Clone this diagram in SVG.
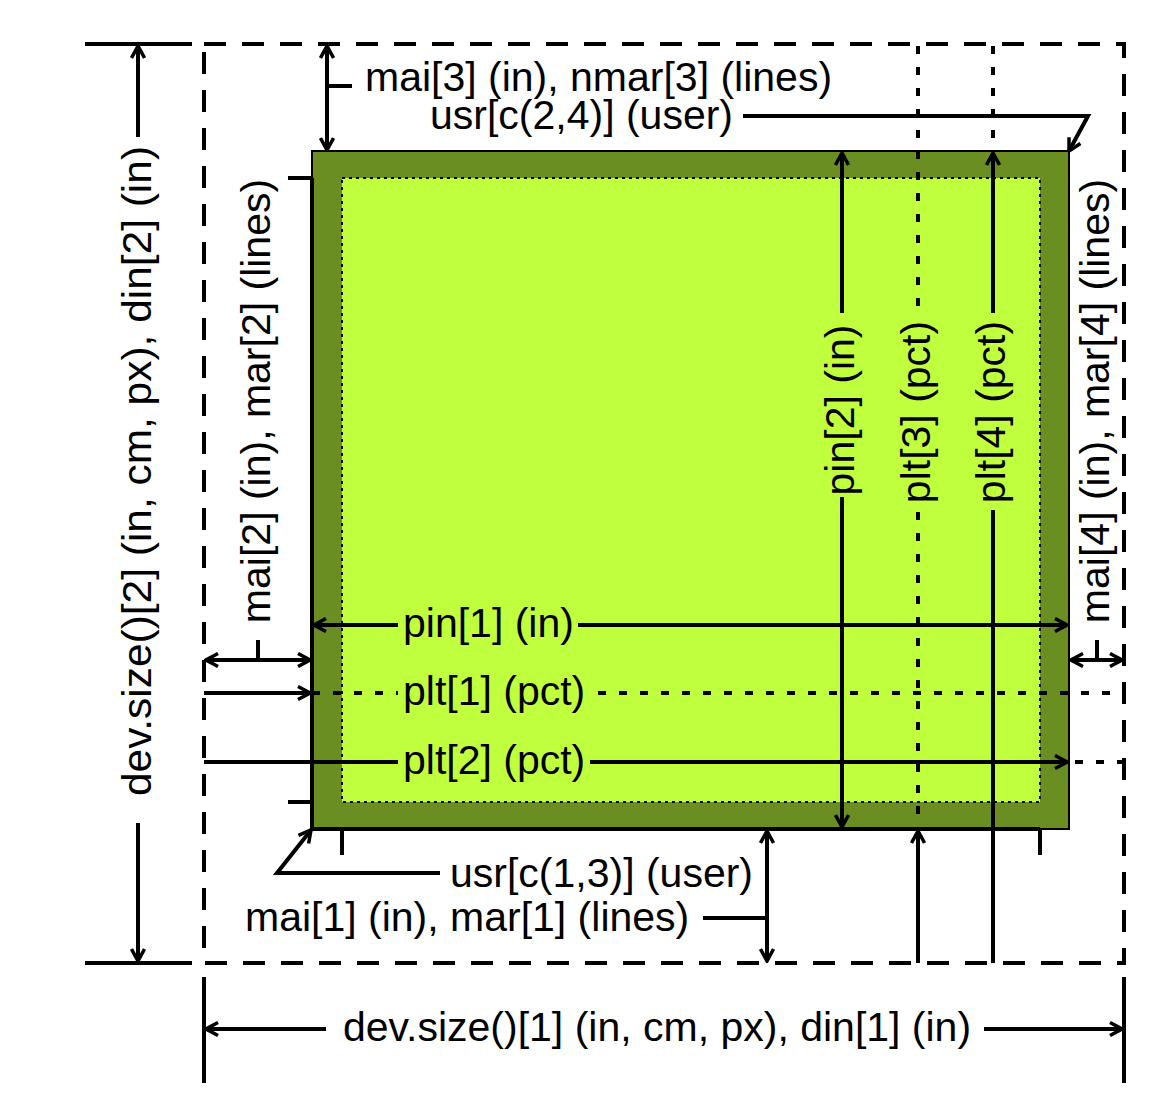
<svg xmlns="http://www.w3.org/2000/svg" width="1154" height="1104" viewBox="0 0 1154 1104">
<style>
.t{font-family:"Liberation Sans",Arial,sans-serif;font-size:41px;fill:#000}
.s{stroke:#000;stroke-width:4;fill:none}
.d{stroke:#000;stroke-width:4;fill:none;stroke-dasharray:22 16}
.o{stroke:#000;stroke-width:4;fill:none;stroke-dasharray:8 13}
</style>
<defs>
<marker id="ah" markerUnits="userSpaceOnUse" viewBox="0 0 16 16" refX="14" refY="8" markerWidth="16" markerHeight="16" orient="auto-start-reverse">
<path d="M2,1.5 L14,8 L2,14.5" fill="none" stroke="#000" stroke-width="3.5"/>
</marker>
</defs>
<rect width="1154" height="1104" fill="#fff"/>

<g id="device-region">
<rect x="204" y="44" width="920" height="919" class="d"/>
</g>

<g id="figure-region">
<rect x="312" y="151" width="757" height="678" fill="#6B8E23" stroke="#000" stroke-width="2"/>
</g>

<g id="plot-region">
<rect x="342" y="178" width="698" height="624" fill="#C0FF3E" stroke="#000" stroke-width="2" stroke-dasharray="3 4"/>
</g>

<g id="axes">
<path class="s" d="M312,178 V829 H1040 M288,178 H312 M288,802 H312 M342,829 V855 M1040,829 V855"/>
</g>

<g id="connectors">
<path class="s" d="M85,44 H192 M85,963 H192 M204,977 V1083 M1124,977 V1083"/>
<line class="s" x1="138" y1="137" x2="138" y2="46" marker-end="url(#ah)"/>
<line class="s" x1="138" y1="823" x2="138" y2="961" marker-end="url(#ah)"/>
<line class="s" x1="326" y1="1029" x2="206" y2="1029" marker-end="url(#ah)"/>
<line class="s" x1="984" y1="1029" x2="1122" y2="1029" marker-end="url(#ah)"/>
<line class="s" x1="327" y1="46" x2="327" y2="150" marker-start="url(#ah)" marker-end="url(#ah)"/>
<line class="s" x1="327" y1="86" x2="352" y2="86"/>
<polyline class="s" points="743,116 1088,116 1069,151" marker-end="url(#ah)"/>
<line class="s" x1="206" y1="660" x2="310" y2="660" marker-start="url(#ah)" marker-end="url(#ah)"/>
<line class="s" x1="258" y1="660" x2="258" y2="640"/>
<line class="s" x1="398" y1="625" x2="314" y2="625" marker-end="url(#ah)"/>
<line class="s" x1="578" y1="625" x2="1067" y2="625" marker-end="url(#ah)"/>
<line class="s" x1="204" y1="693" x2="310" y2="693" marker-end="url(#ah)"/>
<line class="o" x1="312" y1="693" x2="398" y2="693"/>
<line class="o" x1="598" y1="693" x2="1124" y2="693"/>
<line class="s" x1="204" y1="762" x2="398" y2="762"/>
<line class="s" x1="590" y1="762" x2="1067" y2="762" marker-end="url(#ah)"/>
<line class="o" x1="1075" y1="762" x2="1124" y2="762"/>
<line class="s" x1="1071" y1="660" x2="1122" y2="660" marker-start="url(#ah)" marker-end="url(#ah)"/>
<line class="s" x1="1097" y1="660" x2="1097" y2="640"/>
<line class="s" x1="842" y1="313" x2="842" y2="153" marker-end="url(#ah)"/>
<line class="s" x1="842" y1="497" x2="842" y2="827" marker-end="url(#ah)"/>
<line class="o" x1="918" y1="46" x2="918" y2="313"/>
<line class="o" x1="918" y1="512" x2="918" y2="829"/>
<line class="s" x1="918" y1="963" x2="918" y2="831" marker-end="url(#ah)"/>
<line class="o" x1="993" y1="46" x2="993" y2="151"/>
<line class="s" x1="993" y1="313" x2="993" y2="153" marker-end="url(#ah)"/>
<line class="s" x1="993" y1="510" x2="993" y2="963"/>
<line class="s" x1="767" y1="831" x2="767" y2="961" marker-start="url(#ah)" marker-end="url(#ah)"/>
<line class="s" x1="703" y1="918" x2="767" y2="918"/>
<polyline class="s" points="440,873 277,873 311,830" marker-end="url(#ah)"/>
</g>

<g id="labels">
<text class="t" x="365" y="91">mai[3] (in), nmar[3] (lines)</text>
<text class="t" x="430" y="129">usr[c(2,4)] (user)</text>
<text class="t" x="403" y="637">pin[1] (in)</text>
<text class="t" x="403" y="705">plt[1] (pct)</text>
<text class="t" x="403" y="774">plt[2] (pct)</text>
<text class="t" x="450" y="887">usr[c(1,3)] (user)</text>
<text class="t" x="245" y="931">mai[1] (in), mar[1] (lines)</text>
<text class="t" x="343" y="1041">dev.size()[1] (in, cm, px), din[1] (in)</text>
<text class="t" text-anchor="middle" transform="translate(151,471) rotate(-90)" textLength="650" lengthAdjust="spacingAndGlyphs">dev.size()[2] (in, cm, px), din[2] (in)</text>
<text class="t" text-anchor="middle" transform="translate(270,401) rotate(-90)">mai[2] (in), mar[2] (lines)</text>
<text class="t" text-anchor="middle" transform="translate(1109,401) rotate(-90)">mai[4] (in), mar[4] (lines)</text>
<text class="t" text-anchor="middle" transform="translate(854,410) rotate(-90)">pin[2] (in)</text>
<text class="t" text-anchor="middle" transform="translate(930,412) rotate(-90)">plt[3] (pct)</text>
<text class="t" text-anchor="middle" transform="translate(1005,412) rotate(-90)">plt[4] (pct)</text>
</g>
</svg>
